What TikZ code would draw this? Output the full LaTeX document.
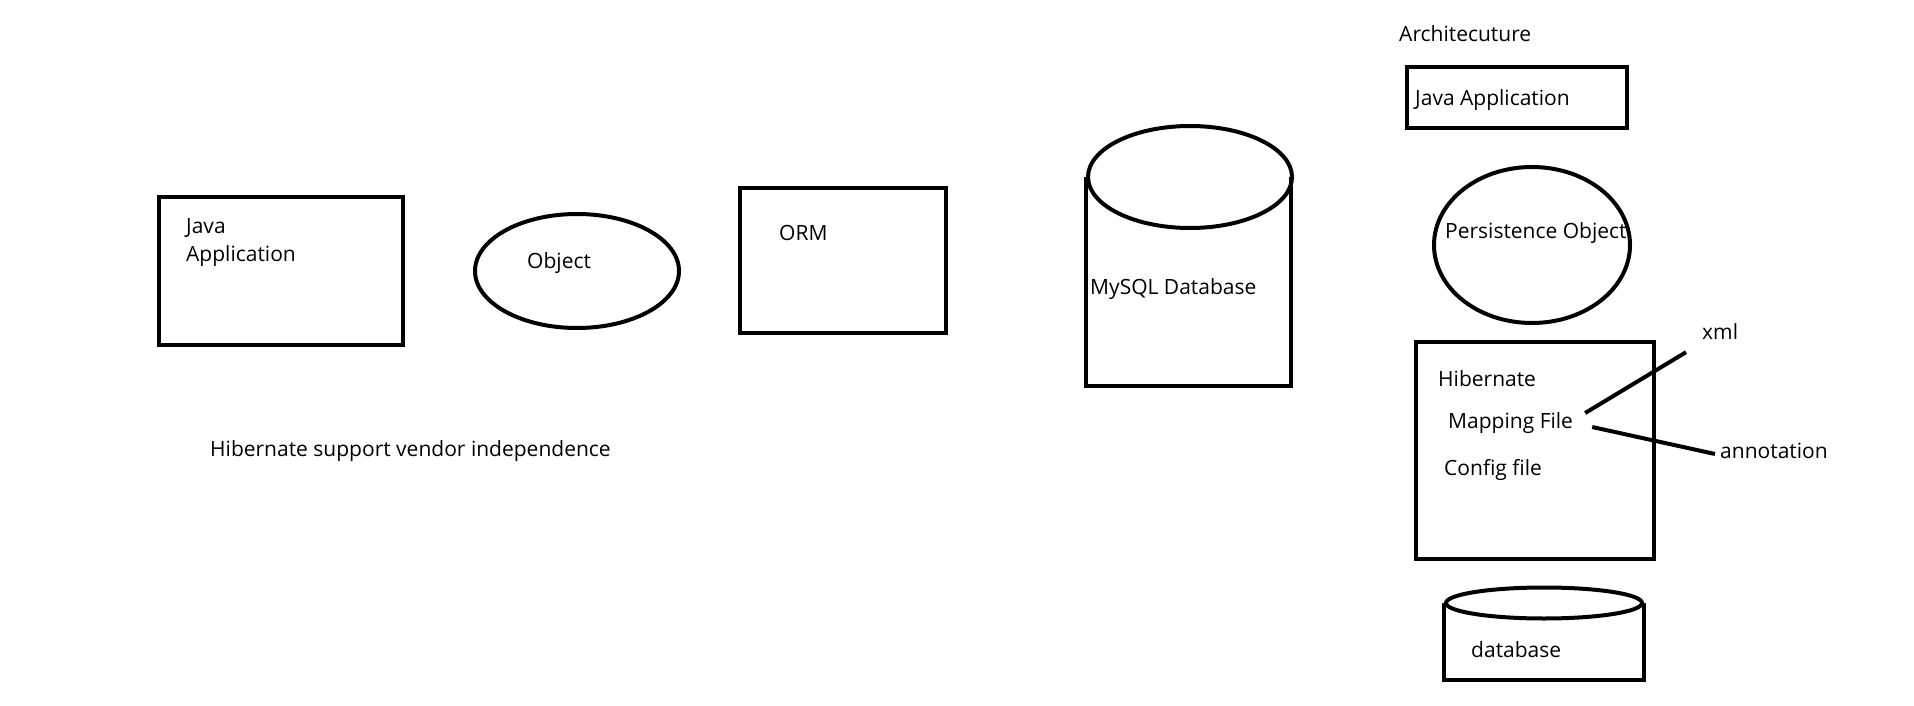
\documentclass[tikz,border=0pt]{standalone}
\usepackage{fontspec}
\setmainfont{Open Sans}
\usetikzlibrary{shapes.geometric}

\begin{document}
\begin{tikzpicture}[x=1pt, y=-1pt,
		pen/.style={line width=4pt},
		box/.style={draw, pen, inner sep=0pt},
		oval/.style={draw, pen, ellipse, inner sep=0pt},
		lbl/.style={anchor=west, inner sep=0pt, align=left, font=\fontsize{21}{28}\selectfont}]
	\useasboundingbox (0,0) rectangle (1914,706);
	% left part
	\node[box, minimum width=244, minimum height=148] (javabox) at (281,271) {};
	\node[lbl] (javatxt) at (186,243) {Java\\Application};
	\node[oval, minimum width=204, minimum height=114] (objoval) at (577,271) {};
	\node[lbl] (objtxt) at (527,263) {Object};
	\node[box, minimum width=206, minimum height=145] (ormbox) at (843,260) {};
	\node[lbl] (ormtxt) at (779,233) {ORM};
	\node[oval, minimum width=204, minimum height=102] (mysqltop) at (1190,177) {};
	\draw[pen] (mysqltop.west) -- ++(0,209) -| ([xshift=-3]mysqltop.east);
	\node[lbl] (mysqltxt) at (1090,289) {MySQL Database};
	\node[lbl] (vendor) at (210,451) {Hibernate support vendor independence};
	% architecture
	\node[lbl] (archtxt) at (1399,34) {Architecuture};
	\node[box, minimum width=220, minimum height=61] (appbox) at (1517,98) {};
	\node[lbl] (apptxt) at (1415,100) {Java Application};
	\node[oval, minimum width=196, minimum height=156] (persoval) at (1532,245) {};
	\node[lbl] (perstxt) at (1445,233) {Persistence Object};
	\node[box, minimum width=238, minimum height=217] (hibbox) at (1535,450) {};
	\node[lbl] (hib) at (1438,379) {Hibernate};
	\node[lbl] (map) at (1448,423) {Mapping File};
	\node[lbl] (cfg) at (1444,470) {Config file};
	\node[lbl] (xml) at (1702,332) {xml};
	\node[lbl] (annot) at (1720,451) {annotation};
	\draw[pen] ([shift={(12,-10)}]map.east) -- ([shift={(-16,12)}]xml.south west);
	\draw[pen] ([shift={(19,4)}]map.east) -- ([shift={(-5,3)}]annot.west);
	\node[oval, minimum width=196, minimum height=31] (dbtop) at (1544,603) {};
	\draw[pen] (dbtop.west) -- ++(0,77) -| (dbtop.east);
	\node[lbl] (dbtxt) at (1471,650) {database};
\end{tikzpicture}
\end{document}
